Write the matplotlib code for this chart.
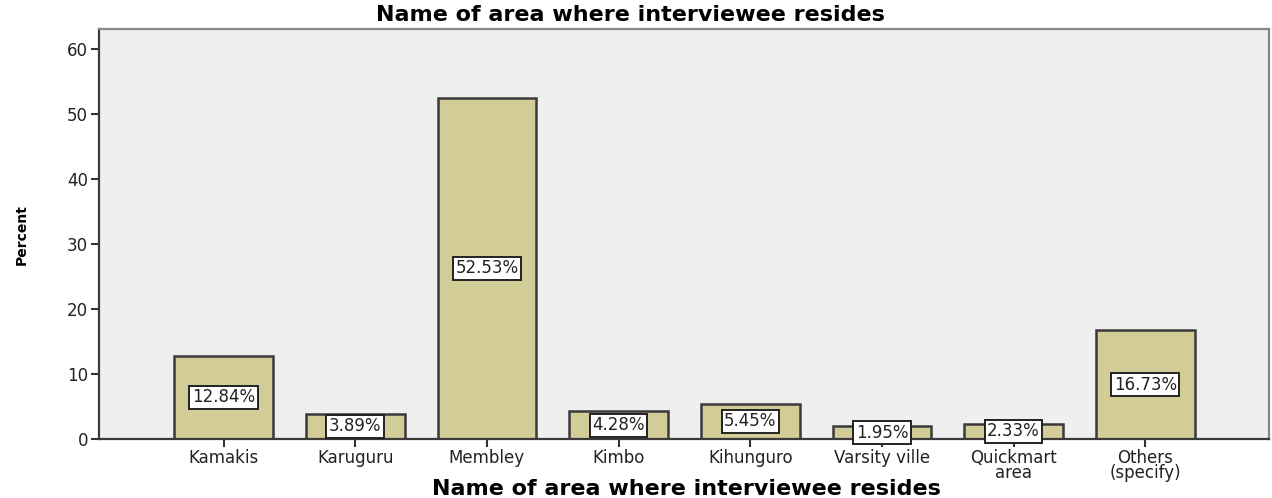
import numpy as np
import matplotlib
matplotlib.use("Agg")
import matplotlib.pyplot as plt

# Share of interviewees by residence area
areas = ["Kamakis", "Karuguru", "Membley", "Kimbo", "Kihunguro",
         "Varsity ville", "Quickmart\narea", "Others\n(specify)"]
percents = [12.84, 3.89, 52.53, 4.28, 5.45, 1.95, 2.33, 16.73]
y_ticks = [0, 10, 20, 30, 40, 50, 60]

title = "Name of area where interviewee resides"

plt.rcParams["font.family"] = ["DejaVu Sans"]

fig = plt.figure(figsize=(12.72, 4.98), dpi=100)
ax = fig.add_axes([99 / 1272, 59 / 498, 1170 / 1272, 410 / 498])
ax.set_facecolor("#efefef")

x = np.arange(len(areas))
ax.bar(x, percents, width=0.75, color="#d2cc96", edgecolor="#3a3a3a",
       linewidth=1.8, zorder=2)

# value boxes sit at half the bar height
for xi, p in zip(x, percents):
    ax.text(xi, p / 2, f"{p:.2f}%", ha="center", va="center", fontsize=12,
            color="#222222", zorder=3,
            bbox=dict(boxstyle="square,pad=0.15", facecolor="white",
                      edgecolor="#222222", linewidth=1.4))

ax.set_xlim(-0.946, len(areas) - 1 + 0.94)
ax.set_ylim(0, 63.1)
ax.set_yticks(y_ticks)
ax.set_xticks(x)
ax.set_xticklabels(areas, fontsize=12, linespacing=0.8, color="#222222")
ax.tick_params(axis="y", labelsize=12, labelcolor="#222222", length=6,
               width=1.5, color="#333333", pad=2)
ax.tick_params(axis="x", length=6, width=1.5, color="#333333", pad=1)

for side in ["left", "bottom"]:
    ax.spines[side].set_color("#3a3a3a")
    ax.spines[side].set_linewidth(1.6)
for side in ["top", "right"]:
    ax.spines[side].set_color("#888888")
    ax.spines[side].set_linewidth(1.6)

fig.text(630 / 1272, 1 - 15 / 498, title, ha="center", va="center",
         fontsize=16, fontweight="bold")
fig.text(686 / 1272, 1 - 489 / 498, title, ha="center", va="center",
         fontsize=16, fontweight="bold")
fig.text(22 / 1272, 1 - 235 / 498, "Percent", ha="center", va="center",
         rotation=90, fontsize=10, fontweight="bold")

fig.savefig("out.png", dpi=100)
